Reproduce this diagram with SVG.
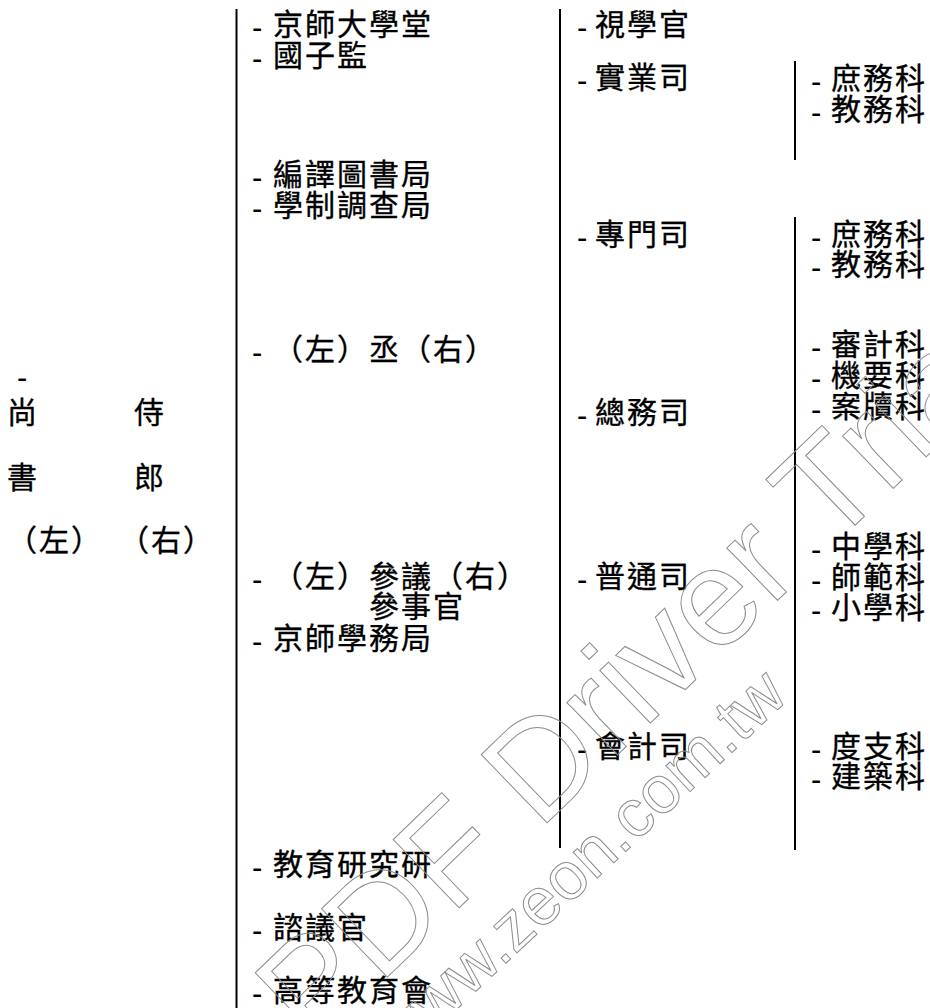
<svg xmlns="http://www.w3.org/2000/svg" width="930" height="1008" viewBox="0 0 930 1008">
<style>
.t{font-family:"Noto Sans CJK TC","Noto Sans CJK SC",sans-serif;font-size:30px;letter-spacing:2px;fill:#000;stroke:#000;stroke-width:0.35}
.d{font-family:"Liberation Sans",Arial,sans-serif;font-size:31px;fill:#000}
.ln{stroke:#000;stroke-width:2;fill:none}
.wm{font-family:"Liberation Sans",Arial,sans-serif;fill:none;stroke:#8c8c8c;stroke-width:1}
</style>
<rect width="930" height="1008" fill="#fff"/>
<g id="connectors">
<line class="ln" x1="236.5" y1="9" x2="236.5" y2="1008"/>
<line class="ln" x1="560" y1="9" x2="560" y2="848"/>
<line class="ln" x1="795" y1="61" x2="795" y2="160"/>
<line class="ln" x1="795" y1="217" x2="795" y2="850"/>
</g>
<g id="n-root">
<text class="d" x="17" y="388">-</text>
<text class="t" x="7" y="423">尚</text>
<text class="t" x="134" y="423">侍</text>
<text class="t" x="7" y="488">書</text>
<text class="t" x="134" y="488">郎</text>
<text class="t" x="7" y="551">（左）</text>
<text class="t" x="119" y="551">（右）</text>
</g>
<g id="n-jingshi-daxuetang"><text class="d" x="252" y="38">-</text><text class="t" x="273" y="35">京師大學堂</text></g>
<g id="n-guozijian"><text class="d" x="252" y="69">-</text><text class="t" x="273" y="66">國子監</text></g>
<g id="n-bianyi"><text class="d" x="252" y="188">-</text><text class="t" x="273" y="185">編譯圖書局</text></g>
<g id="n-xuezhi"><text class="d" x="252" y="219">-</text><text class="t" x="273" y="216">學制調查局</text></g>
<g id="n-cheng"><text class="d" x="252" y="363">-</text><text class="t" x="273" y="360">（左）丞（右）</text></g>
<g id="n-canyi"><text class="d" x="252" y="590">-</text><text class="t" x="273" y="587">（左）參議（右）</text><text class="t" x="369" y="617">參事官</text></g>
<g id="n-xuewuju"><text class="d" x="252" y="652">-</text><text class="t" x="273" y="649">京師學務局</text></g>
<g id="n-yanjiu"><text class="d" x="252" y="878">-</text><text class="t" x="273" y="875">教育研究研</text></g>
<g id="n-ziyi"><text class="d" x="252" y="941">-</text><text class="t" x="273" y="938">諮議官</text></g>
<g id="n-gaodeng"><text class="d" x="252" y="1004">-</text><text class="t" x="273" y="1001">高等教育會</text></g>
<g id="n-shixue"><text class="d" x="577" y="38">-</text><text class="t" x="595" y="35">視學官</text></g>
<g id="n-shiye"><text class="d" x="577" y="91">-</text><text class="t" x="595" y="88">實業司</text></g>
<g id="n-zhuanmen"><text class="d" x="577" y="248">-</text><text class="t" x="595" y="245">專門司</text></g>
<g id="n-zongwu"><text class="d" x="577" y="426">-</text><text class="t" x="595" y="423">總務司</text></g>
<g id="n-putong"><text class="d" x="577" y="590">-</text><text class="t" x="595" y="587">普通司</text></g>
<g id="n-kuaiji"><text class="d" x="577" y="760">-</text><text class="t" x="595" y="757">會計司</text></g>
<g id="n-shiye-ke"><text class="d" x="811" y="92">-</text><text class="t" x="831" y="89">庶務科</text><text class="d" x="811" y="123">-</text><text class="t" x="831" y="120">教務科</text></g>
<g id="n-zhuanmen-ke"><text class="d" x="811" y="248">-</text><text class="t" x="831" y="245">庶務科</text><text class="d" x="811" y="278">-</text><text class="t" x="831" y="275">教務科</text></g>
<g id="n-zongwu-ke"><text class="d" x="811" y="358">-</text><text class="t" x="831" y="355">審計科</text><text class="d" x="811" y="389">-</text><text class="t" x="831" y="386">機要科</text><text class="d" x="811" y="420">-</text><text class="t" x="831" y="417">案牘科</text></g>
<g id="n-putong-ke"><text class="d" x="811" y="560">-</text><text class="t" x="831" y="557">中學科</text><text class="d" x="811" y="591">-</text><text class="t" x="831" y="588">師範科</text><text class="d" x="811" y="621">-</text><text class="t" x="831" y="618">小學科</text></g>
<g id="n-kuaiji-ke"><text class="d" x="811" y="760">-</text><text class="t" x="831" y="757">度支科</text><text class="d" x="811" y="790">-</text><text class="t" x="831" y="787">建築科</text></g>
<g id="watermark" class="wm">
<text transform="translate(313,1049) rotate(-44)" font-size="138">PDF Driver Trial</text>
<text transform="translate(398,1064) rotate(-43)" font-size="67">www.zeon.com.tw</text>
</g>
</svg>
